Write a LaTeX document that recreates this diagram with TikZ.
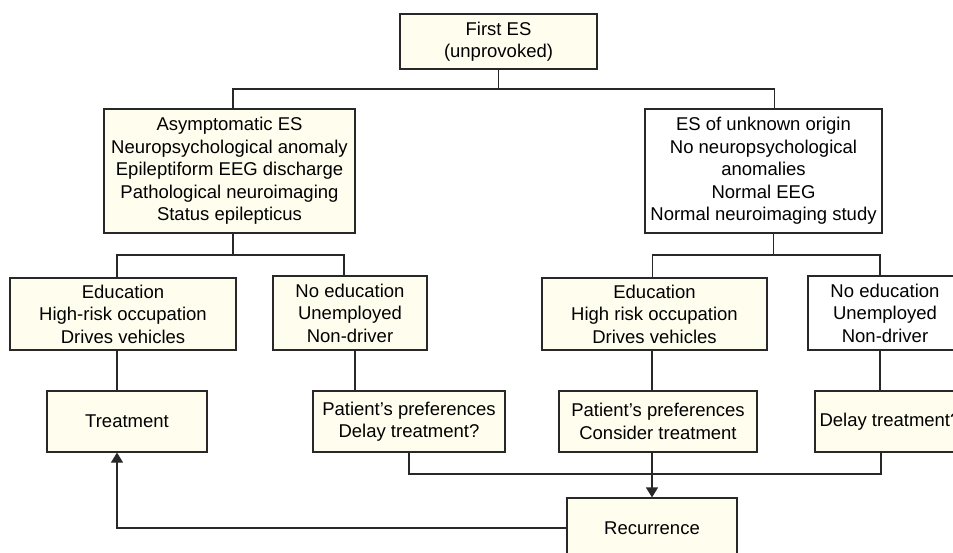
\documentclass[tikz,border=0pt]{standalone}
\usepackage{fontspec}
\setmainfont{Liberation Sans}
\usepackage{tikz}
\usetikzlibrary{arrows.meta}
\definecolor{cream}{RGB}{255,254,238}
\definecolor{edge}{RGB}{40,40,40}

\begin{document}
\begin{tikzpicture}[
            x=1pt, y=-1pt,
            font=\fontsize{18.5}{22.5}\selectfont,
            >={Triangle[length=10pt, width=12pt]},
            cbox/.style ={draw=edge, line width=1.2pt, fill=cream, align=center, inner sep=0pt},
            wbox/.style ={cbox, fill=white},
            ln/.style   ={draw=edge, line width=1.2pt},
            ar/.style   ={ln, ->}
        ]
        % picture is cut at the page edge, as in the source figure
        \useasboundingbox (0,0) rectangle (953,553);
        \clip (0,0) rectangle (953,553);

        %% --- bus levels ---
        \coordinate (bus1) at (0,89);
        \coordinate (bus2) at (0,255);
        \coordinate (bus4) at (0,474);

        %% --- top and first split ---
        \node[cbox, minimum width=197pt, minimum height=55pt] (first) at (498.5,41.5)
              {First ES\\(unprovoked)};
        \node[cbox, minimum width=251pt, minimum height=124pt] (asym) at (229.5,171)
              {Asymptomatic ES\\Neuropsychological anomaly\\Epileptiform EEG discharge\\Pathological neuroimaging\\Status epilepticus};
        \node[wbox, minimum width=237pt, minimum height=124pt] (unk) at (763.5,171)
              {ES of unknown origin\\No neuropsychological\\anomalies\\Normal EEG\\Normal neuroimaging study};

        %% --- second split ---
        \node[cbox, minimum width=226pt, minimum height=72pt] (edu1) at (123,314)
              {Education\\High-risk occupation\\Drives vehicles};
        \node[cbox, minimum width=154pt, minimum height=74pt] (noedu1) at (350,313)
              {No education\\Unemployed\\Non-driver};
        \node[cbox, minimum width=225pt, minimum height=72pt] (edu2) at (654.5,314)
              {Education\\High risk occupation\\Drives vehicles};
        \node[wbox, minimum width=154pt, minimum height=74pt] (noedu2) at (885,313)
              {No education\\Unemployed\\Non-driver};

        %% --- decisions ---
        \node[cbox, minimum width=160pt, minimum height=61pt] (treat) at (127,421.5) {Treatment};
        \node[cbox, minimum width=192pt, minimum height=61pt] (pref1) at (409,421.5)
              {Patient’s preferences\\Delay treatment?};
        \node[cbox, minimum width=198pt, minimum height=61pt] (pref2) at (658,421.5)
              {Patient’s preferences\\Consider treatment};
        \node[cbox, minimum width=150pt, minimum height=61pt] (delay) at (890,421.5) {Delay treatment?};
        \node[cbox, minimum width=170pt, minimum height=60pt] (recur) at (652,528) {Recurrence};

        %% --- connectors ---
        \draw[ln] (first.south) -- (first.south |- bus1);
        \draw[ln] ([xshift=3.5pt]asym.north) |- (first.south |- bus1) -| ([xshift=11pt]unk.north);

        \draw[ln] ([xshift=3.5pt]asym.south) -- ([xshift=3.5pt]asym.south |- bus2);
        \draw[ln] ([xshift=-6pt]edu1.north) |- ([xshift=3.5pt]asym.south |- bus2) -| ([xshift=-6pt]noedu1.north);
        \draw[ln] ([xshift=10pt]unk.south) -- ([xshift=10pt]unk.south |- bus2);
        \draw[ln] ([xshift=-2pt]edu2.north) |- ([xshift=10pt]unk.south |- bus2) -| ([xshift=-5pt]noedu2.north);

        \draw[ln] ([xshift=-6pt]edu1.south) -- ([xshift=-6pt]edu1.south |- treat.north);
        \draw[ln] ([xshift=5pt]noedu1.south) -- ([xshift=5pt]noedu1.south |- pref1.north);
        \draw[ln] (recur.north |- edu2.south) -- (recur.north |- pref2.north);
        \draw[ln] ([xshift=-5pt]noedu2.south) -- ([xshift=-5pt]noedu2.south |- delay.north);

        %% merge into recurrence, and back to treatment
        \draw[ln] (pref1.south) -- (pref1.south |- bus4) -| ([xshift=-9pt]delay.south);
        \draw[ar] (recur.north |- pref2.south) -- (recur.north);
        \draw[ar] (recur.west) -| ([xshift=-10pt]treat.south);

    \end{tikzpicture}
\end{document}
